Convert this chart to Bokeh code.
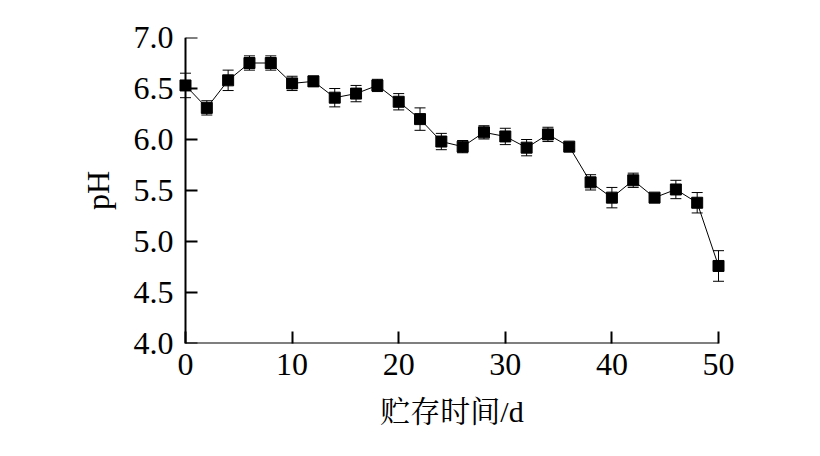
from bokeh.plotting import figure
from bokeh.models import ColumnDataSource, Whisker, TeeHead, Range1d, FixedTicker, CustomJSTickFormatter, LinearAxis
from bokeh.embed import file_html
from bokeh.resources import INLINE

days = [0, 2, 4, 6, 8, 10, 12, 14, 16, 18, 20, 22, 24, 26, 28, 30, 32, 34, 36, 38, 40, 42, 44, 46, 48, 50]
ph = [6.53, 6.31, 6.58, 6.75, 6.75, 6.55, 6.57, 6.41, 6.45, 6.53, 6.37, 6.20, 5.98, 5.93, 6.07, 6.03,
      5.92, 6.05, 5.93, 5.58, 5.43, 5.60, 5.43, 5.51, 5.38, 4.76]
err = [0.12, 0.07, 0.10, 0.07, 0.07, 0.07, 0.05, 0.09, 0.08, 0.06, 0.08, 0.11, 0.08, 0.06, 0.065, 0.08,
       0.08, 0.07, 0.03, 0.075, 0.10, 0.07, 0.04, 0.09, 0.10, 0.15]
x_ticks = [0, 10, 20, 30, 40, 50]
y_ticks = [4.0, 4.5, 5.0, 5.5, 6.0, 6.5, 7.0]

src = ColumnDataSource(dict(
    x=days, y=ph,
    upper=[a + b for a, b in zip(ph, err)],
    lower=[a - b for a, b in zip(ph, err)],
))

serif = "Liberation Serif, Noto Serif CJK SC, Noto Sans CJK SC"
pad = 0.75

p = figure(width=812, height=448, output_backend="svg", toolbar_location=None,
           x_range=Range1d(x_ticks[0] - pad, x_ticks[-1] + pad), y_range=Range1d(y_ticks[0], y_ticks[-1]),
           min_border_left=177, min_border_right=86, min_border_top=37, min_border_bottom=105)
p.outline_line_color = None
p.grid.grid_line_color = None
p.background_fill_color = "white"

# x axis line from first to last tick
p.segment(x0=[x_ticks[0]], y0=[y_ticks[0]], x1=[x_ticks[-1]], y1=[y_ticks[0]],
          line_color="black", line_width=2)

w = Whisker(source=src, base="x", upper="upper", lower="lower", line_color="black", line_width=1,
            upper_head=TeeHead(size=11, line_color="black", line_width=1),
            lower_head=TeeHead(size=11, line_color="black", line_width=1))
p.add_layout(w)
p.line("x", "y", source=src, line_color="black", line_width=1)
p.scatter("x", "y", source=src, marker="square", size=11, fill_color="black", line_color="black")

for ax in (p.xaxis[0], p.yaxis[0]):
    ax.axis_line_width = 2
    ax.axis_line_color = "black"
    ax.major_tick_in = 12
    ax.major_tick_out = 0
    ax.major_tick_line_width = 2
    ax.minor_tick_line_color = None
    ax.major_label_text_font = serif
    ax.major_label_text_font_size = "32px"
    ax.major_label_text_color = "black"
    ax.axis_label_text_font = serif
    ax.axis_label_text_font_style = "normal"
    ax.axis_label_text_color = "black"

p.xaxis.axis_line_color = None
p.xaxis.ticker = FixedTicker(ticks=x_ticks)
p.yaxis.ticker = FixedTicker(ticks=y_ticks)
p.yaxis.formatter = CustomJSTickFormatter(code="return tick.toFixed(1);")

# left axis carries only labels; line and ticks come from an axis fixed at x = 0
p.yaxis.axis_line_color = None
p.yaxis.major_tick_line_color = None
p.yaxis.major_tick_in = 0

yline = LinearAxis(fixed_location=x_ticks[0], ticker=FixedTicker(ticks=y_ticks),
                   axis_line_width=2, axis_line_color="black",
                   major_tick_in=12, major_tick_out=0, major_tick_line_width=2,
                   minor_tick_line_color=None,
                   formatter=CustomJSTickFormatter(code="return '';"),
                   major_label_standoff=0)
p.add_layout(yline, "left")

p.xaxis.axis_label = "贮存时间/d"
p.yaxis[0].axis_label = "pH"
p.xaxis.axis_label_text_font_size = "30px"
p.yaxis[0].axis_label_text_font_size = "32px"
p.xaxis.major_label_standoff = 10
p.yaxis[0].major_label_standoff = 4
p.xaxis.axis_label_standoff = 17
p.yaxis[0].axis_label_standoff = 15

open("out.html", "w").write(file_html(p, INLINE))
